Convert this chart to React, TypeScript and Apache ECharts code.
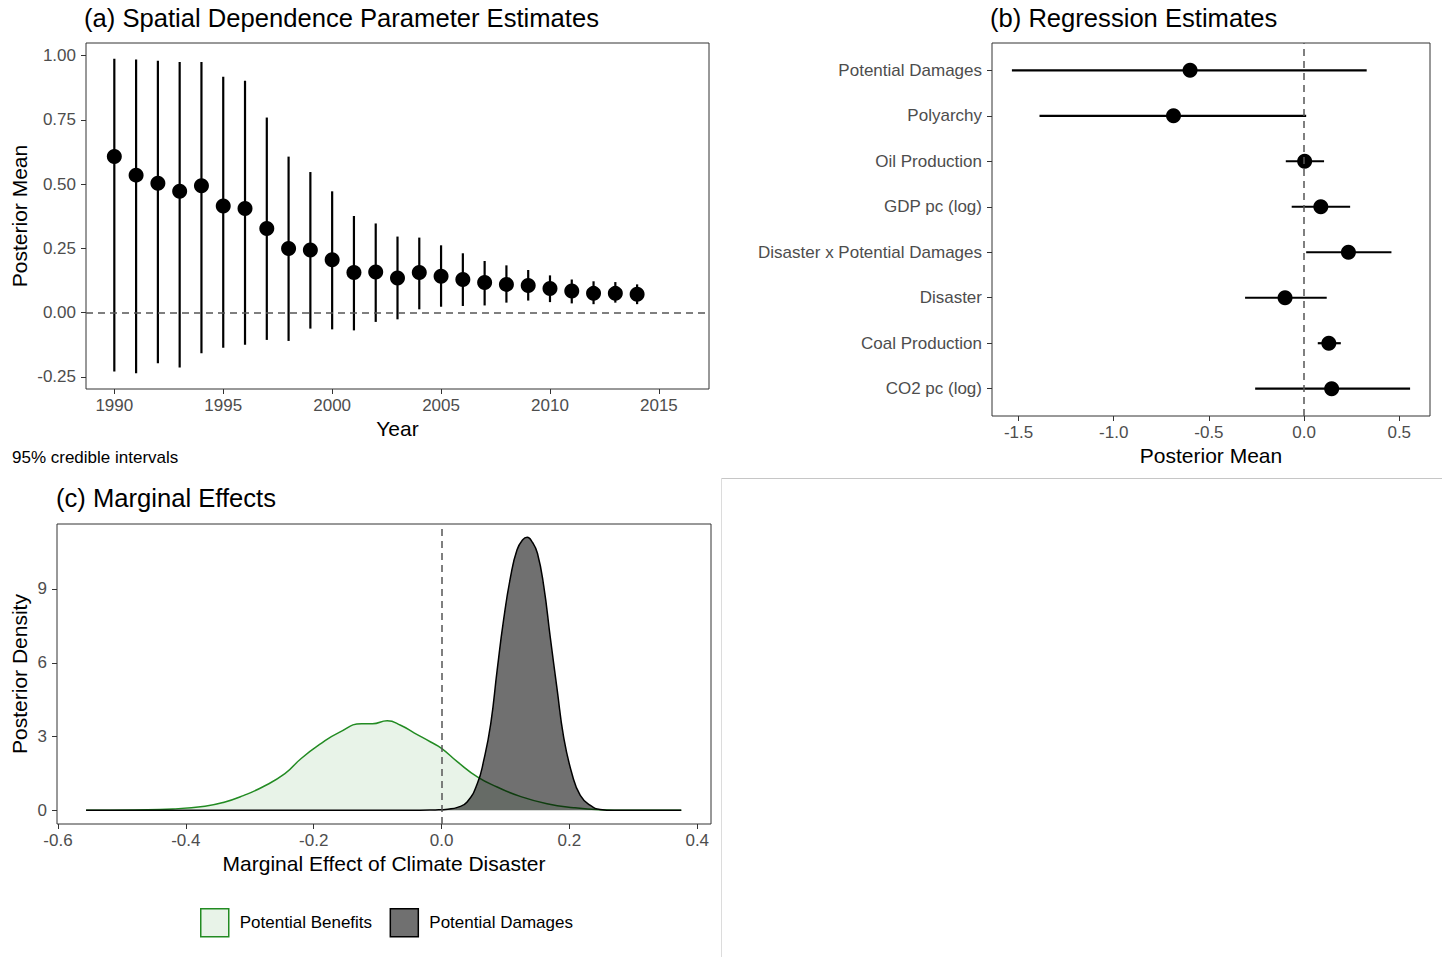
import React, { useEffect, useRef } from 'react';
import * as echarts from 'echarts';

// ---------- Panel (a): spatial dependence parameter by year ----------
const years = [1990, 1991, 1992, 1993, 1994, 1995, 1996, 1997, 1998, 1999, 2000, 2001, 2002, 2003, 2004, 2005, 2006, 2007, 2008, 2009, 2010, 2011, 2012, 2013, 2014];
const rhoMean = [0.607, 0.535, 0.503, 0.472, 0.494, 0.415, 0.405, 0.327, 0.250, 0.244, 0.206, 0.156, 0.158, 0.135, 0.156, 0.142, 0.129, 0.117, 0.110, 0.106, 0.094, 0.084, 0.075, 0.075, 0.072];
const rhoLower = [-0.229, -0.236, -0.197, -0.213, -0.158, -0.137, -0.125, -0.106, -0.110, -0.062, -0.065, -0.069, -0.036, -0.026, 0.013, 0.023, 0.026, 0.028, 0.039, 0.047, 0.041, 0.036, 0.033, 0.039, 0.033];
const rhoUpper = [0.988, 0.985, 0.980, 0.975, 0.975, 0.918, 0.902, 0.759, 0.607, 0.547, 0.472, 0.376, 0.347, 0.296, 0.292, 0.262, 0.231, 0.201, 0.184, 0.166, 0.145, 0.129, 0.122, 0.119, 0.110];
const yearTicks = [1990, 1995, 2000, 2005, 2010, 2015];
const rhoTicks = [-0.25, 0, 0.25, 0.5, 0.75, 1];

// ---------- Panel (b): regression estimates ----------
const terms = ['Potential Damages', 'Polyarchy', 'Oil Production', 'GDP pc (log)', 'Disaster x Potential Damages', 'Disaster', 'Coal Production', 'CO2 pc (log)'];
const termMean = [-0.599, -0.686, 0.003, 0.088, 0.233, -0.100, 0.130, 0.145];
const termLower = [-1.535, -1.390, -0.096, -0.065, 0.011, -0.310, 0.072, -0.257];
const termUpper = [0.329, 0.011, 0.105, 0.242, 0.459, 0.119, 0.193, 0.557];
const coefTicks = [-1.5, -1, -0.5, 0, 0.5];

// ---------- Panel (c): marginal effect densities ----------
const benefitsX = [-0.556, -0.48, -0.42, -0.37, -0.34, -0.31, -0.28, -0.245, -0.22, -0.19, -0.16, -0.125, -0.108, -0.085, -0.064, -0.043, -0.017, 0.0, 0.025, 0.056, 0.087, 0.123, 0.165, 0.207, 0.248, 0.30, 0.375];
const benefitsY = [0, 0.02, 0.06, 0.17, 0.33, 0.60, 0.95, 1.49, 2.10, 2.69, 3.17, 3.52, 3.52, 3.64, 3.46, 3.15, 2.78, 2.52, 1.97, 1.36, 0.95, 0.57, 0.27, 0.11, 0.03, 0.005, 0];
const damagesX = [-0.556, -0.05, -0.01, 0.01, 0.025, 0.04, 0.056, 0.066, 0.077, 0.087, 0.097, 0.108, 0.118, 0.127, 0.134, 0.142, 0.150, 0.160, 0.170, 0.181, 0.191, 0.204, 0.217, 0.233, 0.248, 0.27, 0.375];
const damagesY = [0, 0, 0.02, 0.05, 0.12, 0.34, 1.09, 2.03, 3.53, 5.70, 7.73, 9.50, 10.58, 11.0, 11.10, 10.9, 10.45, 9.09, 7.05, 4.88, 2.98, 1.49, 0.61, 0.20, 0.04, 0.005, 0];
const effectTicks = [-0.6, -0.4, -0.2, 0, 0.2, 0.4];
const densityTicks = [0, 3, 6, 9];

const FONT = '"Liberation Sans", Arial, Helvetica, sans-serif';
const GREEN = '#228B22';

export default function App() {
  const ref = useRef<HTMLDivElement>(null);

  useEffect(() => {
    document.body.style.margin = '0';
    document.body.style.overflow = 'hidden';
    if (!ref.current) return;
    const chart = echarts.init(ref.current, undefined, { renderer: 'svg' });

    const tick = (values: number[]) => ({ show: true, length: 5, inside: false, customValues: values, lineStyle: { color: '#333', width: 1 } });
    const label = (values: number[], formatter: (v: number) => string, margin: number) => ({
      customValues: values, formatter, color: '#4d4d4d', fontSize: 17, fontFamily: FONT, margin,
    });
    const nameStyle = { fontSize: 21, color: '#000', fontFamily: FONT };
    const gridStyle = { show: true, borderColor: '#333', borderWidth: 1, backgroundColor: 'transparent', containLabel: false };
    const dashed = { type: [7, 5] as any, color: '#555', width: 1.5 };
    const titleStyle = { fontSize: 25.6, fontWeight: 'normal', color: '#000', fontFamily: FONT };

    const nTerms = terms.length;
    const termPos = terms.map((_, i) => nTerms - i);

    const option: any = {
      animation: false,
      textStyle: { fontFamily: FONT },
      title: [
        { text: '(a) Spatial Dependence Parameter Estimates', left: 84, top: 5, padding: 0, textStyle: titleStyle },
        { text: '(b) Regression Estimates', left: 990, top: 5, padding: 0, textStyle: titleStyle },
        { text: '(c) Marginal Effects', left: 56, top: 485, padding: 0, textStyle: titleStyle },
        { text: '95% credible intervals', left: 12, top: 449, padding: 0, textStyle: { fontSize: 17, fontWeight: 'normal', color: '#000', fontFamily: FONT } },
      ],
      legend: {
        left: 195, top: 903, itemWidth: 28, itemHeight: 28, itemGap: 17.5, icon: 'rect', selectedMode: false,
        textStyle: { fontSize: 17, color: '#000', fontFamily: FONT, padding: [0, 0, 0, 6] },
        data: [
          { name: 'Potential Benefits', itemStyle: { color: 'rgba(34,139,34,0.1)', borderColor: GREEN, borderWidth: 1.5, opacity: 1 } },
          { name: 'Potential Damages', itemStyle: { color: 'rgba(0,0,0,0.56)', borderColor: '#000', borderWidth: 1.5, opacity: 1 } },
        ],
      },
      grid: [
        { left: 86, top: 43, width: 623, height: 346, ...gridStyle },
        { left: 992, top: 43, width: 438, height: 373, ...gridStyle },
        { left: 57, top: 524, width: 654, height: 300, ...gridStyle },
      ],
      xAxis: [
        {
          gridIndex: 0, type: 'value', min: 1988.7, max: 2017.3,
          axisLine: { show: false, onZero: false }, axisTick: tick(yearTicks),
          axisLabel: label(yearTicks, (v: number) => String(v), 8), splitLine: { show: false },
          name: 'Year', nameLocation: 'middle', nameGap: 29, nameTextStyle: nameStyle,
        },
        {
          gridIndex: 1, type: 'value', min: -1.6396, max: 0.6616,
          axisLine: { show: false, onZero: false }, axisTick: tick(coefTicks),
          axisLabel: label(coefTicks, (v: number) => v.toFixed(1), 8), splitLine: { show: false },
          name: 'Posterior Mean', nameLocation: 'middle', nameGap: 29, nameTextStyle: nameStyle,
        },
        {
          gridIndex: 2, type: 'value', min: -0.6015, max: 0.4215,
          axisLine: { show: false, onZero: false }, axisTick: tick(effectTicks),
          axisLabel: label(effectTicks, (v: number) => v.toFixed(1), 8), splitLine: { show: false },
          name: 'Marginal Effect of Climate Disaster', nameLocation: 'middle', nameGap: 29, nameTextStyle: nameStyle,
        },
      ],
      yAxis: [
        {
          gridIndex: 0, type: 'value', min: -0.297, max: 1.049,
          axisLine: { show: false, onZero: false }, axisTick: tick(rhoTicks),
          axisLabel: label(rhoTicks, (v: number) => v.toFixed(2), 10), splitLine: { show: false },
          name: 'Posterior Mean', nameLocation: 'middle', nameGap: 56, nameRotate: 90, nameTextStyle: nameStyle,
        },
        {
          gridIndex: 1, type: 'value', min: 0.4, max: 8.6,
          axisLine: { show: false, onZero: false }, axisTick: tick(termPos),
          axisLabel: label(termPos, (v: number) => terms[nTerms - Math.round(v)] ?? '', 10), splitLine: { show: false },
        },
        {
          gridIndex: 2, type: 'value', min: -0.554, max: 11.64,
          axisLine: { show: false, onZero: false }, axisTick: tick(densityTicks),
          axisLabel: label(densityTicks, (v: number) => String(v), 10), splitLine: { show: false },
          name: 'Posterior Density', nameLocation: 'middle', nameGap: 27, nameRotate: 90, nameTextStyle: nameStyle,
        },
      ],
      graphic: [
        { type: 'line', silent: true, shape: { x1: 721, y1: 478.5, x2: 1442, y2: 478.5 }, style: { stroke: '#c6c6c6', lineWidth: 1 } },
        { type: 'line', silent: true, shape: { x1: 721.5, y1: 478, x2: 721.5, y2: 957 }, style: { stroke: '#dcdcdc', lineWidth: 1 } },
      ],
      series: [
        {
          name: 'rho interval', type: 'custom', xAxisIndex: 0, yAxisIndex: 0, z: 2,
          data: years.map((y, i) => [y, rhoLower[i], rhoUpper[i]]),
          encode: { x: 0, y: [1, 2] },
          renderItem: (params: any, api: any) => {
            const p1 = api.coord([api.value(0), api.value(1)]);
            const p2 = api.coord([api.value(0), api.value(2)]);
            return { type: 'line', shape: { x1: p1[0], y1: p1[1], x2: p2[0], y2: p2[1] }, style: { stroke: '#000', lineWidth: 2.2 } };
          },
          markLine: { silent: true, symbol: ['none', 'none'], label: { show: false }, lineStyle: dashed, data: [{ yAxis: 0 }] },
        },
        {
          name: 'rho mean', type: 'scatter', xAxisIndex: 0, yAxisIndex: 0, z: 4,
          symbol: 'circle', symbolSize: 15, itemStyle: { color: '#000', opacity: 1 },
          data: years.map((y, i) => [y, rhoMean[i]]),
        },
        {
          name: 'coef interval', type: 'custom', xAxisIndex: 1, yAxisIndex: 1, z: 2,
          data: terms.map((_, i) => [termLower[i], termPos[i], termUpper[i]]),
          encode: { x: [0, 2], y: 1 },
          renderItem: (params: any, api: any) => {
            const p1 = api.coord([api.value(0), api.value(1)]);
            const p2 = api.coord([api.value(2), api.value(1)]);
            return { type: 'line', shape: { x1: p1[0], y1: p1[1], x2: p2[0], y2: p2[1] }, style: { stroke: '#000', lineWidth: 2.2 } };
          },
          markLine: { silent: true, symbol: ['none', 'none'], label: { show: false }, lineStyle: dashed, data: [{ xAxis: 0 }] },
        },
        {
          name: 'coef mean', type: 'scatter', xAxisIndex: 1, yAxisIndex: 1, z: 4,
          symbol: 'circle', symbolSize: 15, itemStyle: { color: '#000', opacity: 1 },
          data: terms.map((_, i) => [termMean[i], termPos[i]]),
        },
        {
          name: 'Potential Benefits', type: 'line', xAxisIndex: 2, yAxisIndex: 2, z: 2,
          smooth: 0.5, showSymbol: false, symbol: 'none',
          lineStyle: { color: GREEN, width: 1.5 }, itemStyle: { color: GREEN },
          areaStyle: { color: 'rgba(34,139,34,0.1)', opacity: 1 },
          data: benefitsX.map((x, i) => [x, benefitsY[i]]),
        },
        {
          name: 'Potential Damages', type: 'line', xAxisIndex: 2, yAxisIndex: 2, z: 3,
          smooth: 0.5, showSymbol: false, symbol: 'none',
          lineStyle: { color: '#000', width: 1.5 }, itemStyle: { color: '#000' },
          areaStyle: { color: 'rgba(0,0,0,0.56)', opacity: 1 },
          data: damagesX.map((x, i) => [x, damagesY[i]]),
          markLine: { silent: true, symbol: ['none', 'none'], label: { show: false }, lineStyle: dashed, data: [{ xAxis: 0 }] },
        },
      ],
    };

    chart.setOption(option);
    return () => chart.dispose();
  }, []);

  return <div ref={ref} style={{ width: 1442, height: 957 }} />;
}
